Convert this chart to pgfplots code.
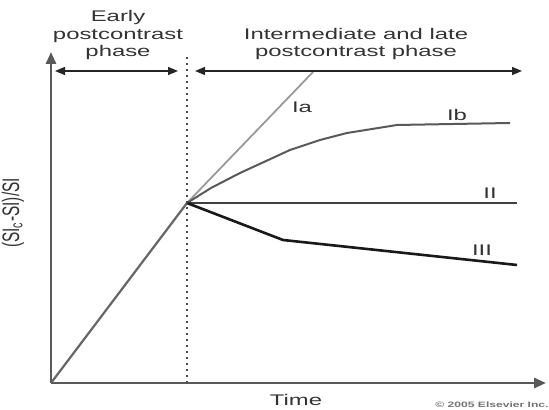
\documentclass[border=0pt]{standalone}
\usepackage{fontspec}
\setmainfont{Liberation Sans}[FakeStretch=1.55]
\newfontfamily\plainfont{Liberation Sans}
\usepackage{graphicx}
\usepackage{pgfplots}
\pgfplotsset{compat=1.18}
\usetikzlibrary{arrows.meta}
\definecolor{txt}{HTML}{333333}
\tikzset{lbl/.style={text=txt, inner sep=0pt, font=\fontsize{7.7}{8.75}\selectfont}}
\begin{document}
\begin{tikzpicture}
\useasboundingbox (-25.5pt,-13.5pt) rectangle (249pt,191.5pt);
\begin{axis}[
  x=0.5pt, y=0.5pt,
  xmin=0, xmax=495, ymin=0, ymax=331,
  anchor=south west, at={(0pt,0pt)},
  axis lines=left,
  xtick=\empty, ytick=\empty,
  axis line style={line width=1.4pt, draw=black!65, -{Triangle[length=6pt,width=5pt]}},
  clip=false,
]
% early enhancement
\addplot[line width=1.1pt, draw=black!60] coordinates {(0,0) (136,180)};
% Ia
\addplot[line width=0.9pt, draw=black!40] coordinates {(136,180) (262,311)};
% Ib
\addplot[line width=1pt, draw=black!65] coordinates {(136,180) (160,195) (189,210) (239,233) (269,243) (296,250) (346,258) (459,260)};
% II
\addplot[line width=1.2pt, draw=black!75] coordinates {(136,180) (466,180)};
% III
\addplot[line width=1.3pt, draw=black!90] coordinates {(136,180) (232,143) (466,118)};
% phase boundary
\addplot[line width=1pt, draw=black!70, dash pattern=on 1pt off 2pt] coordinates {(136,0) (136,326)};

\draw[line width=0.7pt, black!85, {Triangle[length=5pt,width=4pt]}-{Triangle[length=5pt,width=4pt]}] (axis cs:4,312) -- (axis cs:127,312);
\draw[line width=0.7pt, black!85, {Triangle[length=5pt,width=4pt]}-{Triangle[length=5pt,width=4pt]}] (axis cs:144,312) -- (axis cs:471,312);

\node[lbl] at (axis cs:67,365) {Early};
\node[lbl] at (axis cs:67,347) {postcontrast};
\node[lbl] at (axis cs:67,330) {phase};
\node[lbl] at (axis cs:305,349) {Intermediate and late};
\node[lbl] at (axis cs:305,330) {postcontrast phase};

\node[lbl] at (axis cs:251,276) {Ia};
\node[lbl] at (axis cs:406,268) {Ib};
\node[lbl] at (axis cs:439,190) {II};
\node[lbl] at (axis cs:431,133) {III};

\node[lbl] at (axis cs:245,-17) {Time};
\node[lbl, rotate=90] at (axis cs:-38,170) {\plainfont\fontsize{7.7}{9}\selectfont\scalebox{1}[1.55]{(SI\textsubscript{c}-SI)/SI}};
\node[lbl, text=black!55] at (axis cs:441,-22) {\fontsize{3.9}{4.5}\selectfont\bfseries\copyright\ 2005 Elsevier Inc.};
\end{axis}
\end{tikzpicture}
\end{document}
